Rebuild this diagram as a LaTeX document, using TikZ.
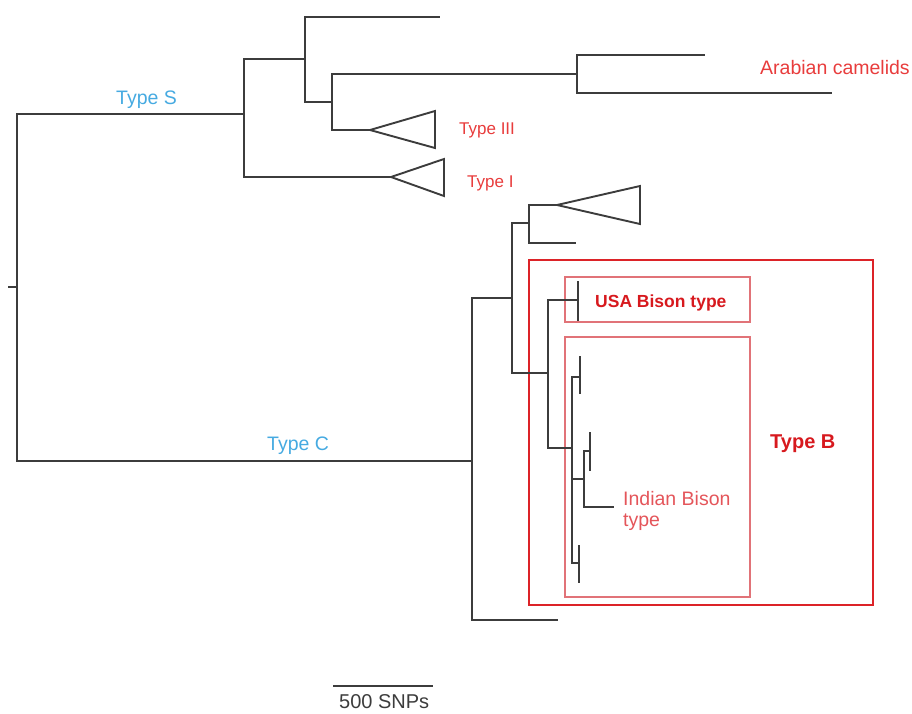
\documentclass[tikz,border=0pt]{standalone}
\usepackage{fontspec}
\setmainfont{Liberation Sans}
\definecolor{br}{RGB}{60,60,60}
\definecolor{sblue}{RGB}{70,170,225}
\definecolor{lred}{RGB}{232,60,60}
\definecolor{boxred}{RGB}{220,35,40}
\definecolor{pinkred}{RGB}{225,115,120}
\definecolor{bred}{RGB}{215,25,30}
\definecolor{ired}{RGB}{228,85,90}
\begin{document}
\begin{tikzpicture}[x=1pt,y=-1pt,
  tree/.style={draw=br,line width=1.9pt},
  clade/.style={draw=br,line width=1.9pt,line join=miter},
  lab/.style={anchor=base west,inner sep=0pt},
  bigbox/.style={draw=boxred,line width=2.8pt},
  smallbox/.style={draw=pinkred,line width=1.9pt}]
\useasboundingbox (0,0) rectangle (912,713);
% red boxes
\draw[bigbox] (529,260) rectangle (873,605);
\draw[smallbox] (565,277) rectangle (750,322);
\draw[smallbox] (565,337) rectangle (750,597);
% internal nodes
\coordinate (root) at (17,287);
\coordinate (S) at (244,114);
\coordinate (A) at (305,59);
\coordinate (B) at (332,102);
\coordinate (D) at (577,74);
\coordinate (t3) at (370,130);
\coordinate (t1) at (391,177);
\coordinate (C) at (472,461);
\coordinate (E) at (512,298);
\coordinate (F) at (529,223);
\coordinate (tb) at (557,205);
\coordinate (G) at (548,373);
\coordinate (H) at (578,300);
\coordinate (J) at (572,448);
\coordinate (K) at (580,377);
\coordinate (L) at (584,479);
\coordinate (N) at (590,451);
\coordinate (M) at (579,563);
% leaves
\coordinate (l1) at (440,17);
\coordinate (l2) at (705,55);
\coordinate (l3) at (832,93);
\coordinate (l4) at (558,620);
\coordinate (l5) at (576,243);
\coordinate (l6) at (614,507);
\coordinate (stub) at (8,287);
% tree
\draw[tree] (stub) -- (root);
\draw[tree] (root) |- (S);
\draw[tree] (root) |- (C);
\draw[tree] (S) |- (A);
\draw[tree] (S) |- (t1);
\draw[tree] (A) |- (l1);
\draw[tree] (A) |- (B);
\draw[tree] (B) |- (D);
\draw[tree] (B) |- (t3);
\draw[tree] (D) |- (l2);
\draw[tree] (D) |- (l3);
\draw[tree] (C) |- (E);
\draw[tree] (C) |- (l4);
\draw[tree] (E) |- (F);
\draw[tree] (E) |- (G);
\draw[tree] (F) |- (tb);
\draw[tree] (F) |- (l5);
\draw[tree] (G) |- (H);
\draw[tree] (G) |- (J);
\draw[tree] (578,281) -- (578,321);
\draw[tree] (J) |- (K);
\draw[tree] (J) |- (L);
\draw[tree] (J) |- (M);
\draw[tree] (580,356) -- (580,394);
\draw[tree] (L) |- (N);
\draw[tree] (L) |- (l6);
\draw[tree] (590,432) -- (590,471);
\draw[tree] (579,545) -- (579,583);
% collapsed clades
\draw[clade] (t3) -- (435,111) -- (435,148) -- cycle;
\draw[clade] (t1) -- (444,159) -- (444,196) -- cycle;
\draw[clade] (tb) -- (640,186) -- (640,224) -- cycle;
% labels
\node[lab,text=sblue,font=\fontsize{19.5}{20}\selectfont] (ts) at (116,104) {Type S};
\node[lab,text=sblue,font=\fontsize{19.5}{20}\selectfont] (tc) at (267,450) {Type C};
\node[lab,text=lred,font=\fontsize{19.5}{20}\selectfont] (ac) at (760,74) {Arabian camelids};
\node[lab,text=lred,font=\fontsize{17}{18}\selectfont] (tIII) at (459,134) {Type III};
\node[lab,text=lred,font=\fontsize{17}{18}\selectfont] (tI) at (467,187) {Type I};
\node[lab,text=bred,font=\bfseries\fontsize{17.5}{18}\selectfont] (usa) at (595,307) {USA Bison type};
\node[lab,text=bred,font=\bfseries\fontsize{20}{20}\selectfont] (tB) at (770,448) {Type B};
\node[lab,text=ired,font=\fontsize{19.5}{21}\selectfont,align=left] (ib) at (623,526) {Indian Bison\\type};
% scale bar
\coordinate (sb1) at (333,686);
\coordinate (sb2) at (433,686);
\draw[tree,line width=1.5pt] (sb1) -- (sb2);
\node[lab,text=br,font=\fontsize{20}{21}\selectfont] (sbl) at (339,708) {500 SNPs};
\end{tikzpicture}
\end{document}
